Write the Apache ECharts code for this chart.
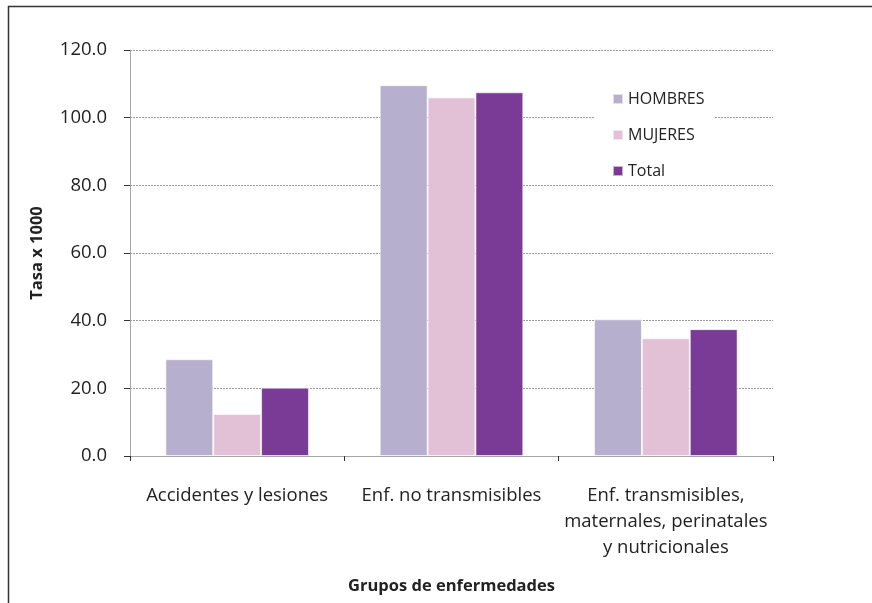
<!DOCTYPE html>
<html><head><meta charset="utf-8">
<script src="https://cdn.jsdelivr.net/npm/echarts@6/dist/echarts.min.js"></script>
<style>html,body{margin:0;padding:0;background:#fff}#c{width:872px;height:603px}</style>
</head><body><div id="c"></div>
<script>
const categories = ["Accidentes y lesiones", "Enf. no transmisibles", "Enf. transmisibles,\nmaternales, perinatales\ny nutricionales"];
const hombres = [28.6, 109.6, 40.4];
const mujeres = [12.4, 106.0, 34.8];
const total = [20.2, 107.5, 37.5];
const seriesNames = ["HOMBRES", "MUJERES", "Total"];
const colors = ["#B7AFCE", "#E2C1D6", "#7A3B96"];
const yTicks = {min: 0, max: 120, interval: 20};

const font = "'Open Sans', sans-serif";
const chart = echarts.init(document.getElementById('c'));
const mk = (name, data, color) => ({
  name, type: 'bar', data, barGap: '0%', barCategoryGap: '33%',
  itemStyle: {color, borderColor: 'rgba(255,255,255,0.6)', borderWidth: 1},
  emphasis: {disabled: true}
});
chart.setOption({
  animation: false,
  textStyle: {fontFamily: font},
  graphic: [{type: 'rect', shape: {x: 8.5, y: 6.5, width: 1000, height: 1000}, style: {fill: 'none', stroke: '#333', lineWidth: 1.5}, silent: true}],
  grid: {left: 130, right: 99, top: 50, bottom: 147, containLabel: false},
  legend: {
    orient: 'vertical', left: 594, top: 81, itemGap: 20, itemWidth: 10, itemHeight: 10,
    padding: [10, 10, 4, 18], backgroundColor: '#fff',
    icon: 'rect', data: seriesNames,
    textStyle: {fontFamily: font, fontSize: 16, lineHeight: 16, color: '#222'}
  },
  xAxis: {
    type: 'category', data: categories,
    name: 'Grupos de enfermedades', nameLocation: 'middle', nameGap: 122,
    nameTextStyle: {fontFamily: font, fontSize: 16.5, fontWeight: 'bold', color: '#222'},
    axisLine: {lineStyle: {color: '#a6a6a6', width: 1}},
    axisTick: {show: true, alignWithLabel: false, length: 5, lineStyle: {color: '#333'}},
    axisLabel: {fontFamily: font, fontSize: 18.5, color: '#222', margin: 27, lineHeight: 26, interval: 0}
  },
  yAxis: {
    type: 'value', min: yTicks.min, max: yTicks.max, interval: yTicks.interval,
    name: 'Tasa x 1000', nameLocation: 'middle', nameGap: 84, nameRotate: 90,
    nameTextStyle: {fontFamily: font, fontSize: 16.5, fontWeight: 'bold', color: '#222'},
    axisLine: {show: true, lineStyle: {color: '#a6a6a6'}},
    axisTick: {show: true, length: 6, lineStyle: {color: '#333'}},
    axisLabel: {fontFamily: font, fontSize: 18.5, color: '#222', margin: 23, formatter: v => v.toFixed(1)},
    splitLine: {show: true, lineStyle: {color: '#9a9a9a', type: [2, 1], width: 1}}
  },
  series: [mk(seriesNames[0], hombres, colors[0]), mk(seriesNames[1], mujeres, colors[1]), mk(seriesNames[2], total, colors[2])]
});
</script></body></html>
